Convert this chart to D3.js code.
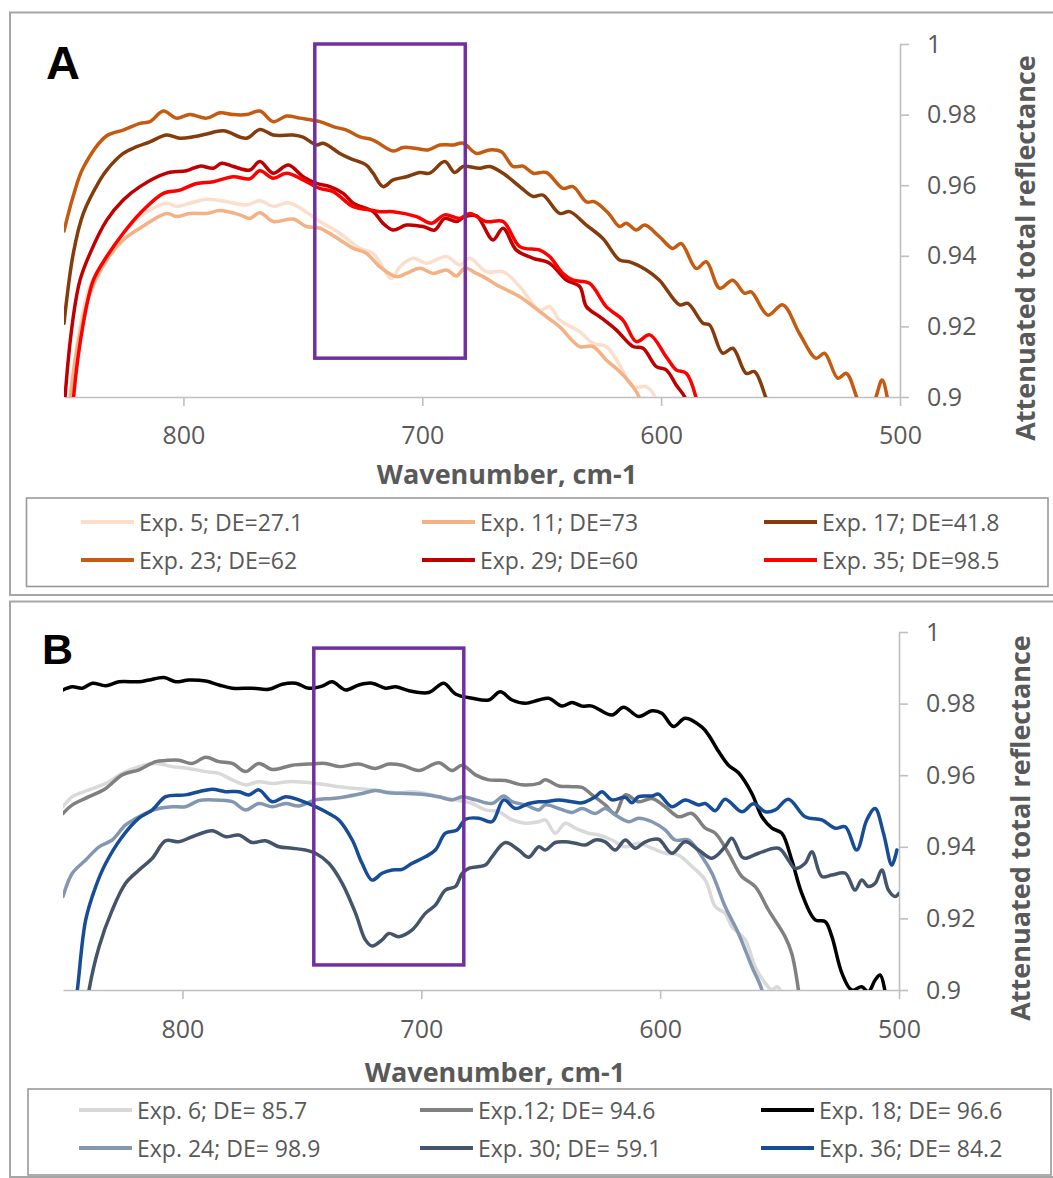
<!DOCTYPE html>
<html>
<head>
<meta charset="utf-8">
<script src="https://cdn.jsdelivr.net/npm/d3@7"></script>
<style>
  body { margin: 0; background: #fff; }
  svg { display: block; }
</style>
</head>
<body>
<svg id="chart" width="1053" height="1178"></svg>
<script>
// ---- data: [wavenumber (cm-1), attenuated total reflectance] ----
// panel A
var exp5 = [[849.5,0.885],[847.5,0.8996],[843.3,0.92],[839.1,0.9313],[832.1,0.9398],[825.2,0.9464],[818.2,0.9511],[807,0.9549],[802.9,0.954],[797.3,0.9549],[790.3,0.956],[781.9,0.9553],[773.6,0.9544],[768,0.9556],[762.4,0.954],[756.1,0.955],[749.9,0.953],[742.9,0.9497],[734.5,0.9464],[726.1,0.9421],[720.6,0.9407],[712.9,0.9336],[709.4,0.9369],[703.8,0.9393],[698.3,0.9379],[689.9,0.9398],[684.3,0.9374],[680.1,0.9393],[673.2,0.9355],[666.2,0.9355],[659.2,0.9313],[650.8,0.9246],[646.7,0.9256],[642.5,0.9218],[634.1,0.9185],[628.5,0.9152],[623,0.9143],[617.4,0.9091],[611.8,0.9029],[606.2,0.9029],[602,0.8992],[600,0.89]]
var exp11 = [[849.5,0.885],[847.5,0.8996],[843.3,0.918],[839.1,0.9294],[832.1,0.9388],[825.2,0.9445],[818.2,0.9478],[807,0.952],[802.9,0.9511],[797.3,0.952],[790.3,0.952],[784.7,0.9528],[776.4,0.9516],[772.2,0.9506],[768,0.9522],[762.4,0.9497],[754,0.9504],[748.5,0.9483],[742.9,0.9478],[734.5,0.9445],[728.9,0.9421],[723.4,0.9407],[717.8,0.9369],[710.8,0.9341],[706.6,0.935],[701,0.9365],[695.5,0.935],[689.9,0.936],[685.7,0.9343],[682.2,0.9365],[677.3,0.935],[674.5,0.9341],[667.6,0.9313],[659.2,0.9284],[650.8,0.9242],[648.1,0.9228],[642.5,0.9199],[634.1,0.9143],[628.5,0.9143],[623,0.9105],[617.4,0.9072],[611.8,0.9029],[609,0.8996],[607,0.89]]
var exp17 = [[850,0.9209],[846.1,0.9407],[841.9,0.952],[834.9,0.9615],[832.1,0.9643],[825.2,0.969],[819.6,0.9709],[814,0.9723],[807,0.9742],[801.5,0.9733],[795.9,0.9737],[790.3,0.9745],[783.3,0.9754],[773.6,0.9733],[768,0.9758],[762.4,0.9742],[754,0.9742],[749.9,0.9736],[744.3,0.9714],[741.5,0.9719],[734.5,0.969],[730.3,0.9676],[723.4,0.9657],[720.6,0.9634],[716.4,0.9596],[712.2,0.9615],[706.6,0.9624],[701,0.9636],[696.9,0.9634],[690.6,0.9667],[686.4,0.9636],[682.9,0.9653],[676,0.9648],[671.8,0.9653],[666.2,0.9634],[659.2,0.9596],[653.6,0.9568],[649.5,0.9572],[642.5,0.952],[638.3,0.9525],[631.3,0.9487],[624.4,0.9449],[617.4,0.9388],[613.2,0.9383],[606.2,0.936],[600.7,0.9331],[592.3,0.9261],[588.8,0.9265],[582.5,0.9209],[579.7,0.9204],[574.2,0.9124],[570,0.9138],[564.4,0.9067],[560.9,0.9072],[556,0.8996],[553,0.895],[550.4,0.8995],[548,0.89]]
var exp23 = [[850,0.947],[846.1,0.957],[841.9,0.965],[832.1,0.974],[825.2,0.9756],[818.2,0.9775],[814,0.978],[808.4,0.981],[802.9,0.979],[797.3,0.98],[790.3,0.979],[784.7,0.9805],[779.1,0.98],[773.6,0.98],[768,0.981],[762.4,0.978],[756.8,0.9796],[751.3,0.979],[742.9,0.978],[737.3,0.9766],[731.7,0.9756],[726.1,0.9737],[720.6,0.9728],[712.2,0.9697],[708,0.9707],[702.4,0.9704],[697.6,0.97],[692.7,0.9714],[687.1,0.9714],[682.9,0.9719],[677.3,0.969],[671.8,0.97],[666.9,0.9695],[662,0.9653],[657.8,0.9654],[653.6,0.9634],[648.1,0.9636],[641.1,0.9591],[636.9,0.9596],[631.3,0.9553],[627.8,0.9553],[622,0.952],[617.4,0.9483],[614.6,0.9492],[610.4,0.9473],[606.9,0.9487],[600.7,0.9454],[595.1,0.9421],[591.6,0.9435],[585.3,0.9364],[581.1,0.9383],[575.5,0.9308],[570,0.9331],[565.1,0.9294],[562.3,0.9298],[555.3,0.9232],[549.1,0.9261],[542.1,0.918],[535.1,0.911],[531.6,0.9124],[526,0.9053],[522.5,0.9067],[517.7,0.8992],[513.5,0.893],[510,0.9001],[507.5,0.9048],[505.1,0.8992],[503,0.89]]
var exp29 = [[851,0.88],[849.6,0.8995],[846.1,0.9228],[843.3,0.9331],[839.1,0.9407],[832.1,0.9501],[825.2,0.9558],[818.2,0.9596],[807,0.9634],[798.7,0.9641],[793.1,0.9654],[787.5,0.9648],[784,0.9662],[779.1,0.9653],[772.2,0.9643],[768,0.9667],[762.4,0.9634],[756.1,0.9657],[749.9,0.9624],[744.3,0.9605],[738.7,0.9596],[733.1,0.9577],[728.9,0.9549],[720.6,0.9525],[716.4,0.9492],[712.2,0.9473],[706.6,0.9487],[699.7,0.9483],[694.8,0.9473],[690.6,0.9506],[685.7,0.9497],[682.2,0.9511],[677.3,0.9513],[670.4,0.9445],[666.2,0.9478],[660.6,0.9416],[653.6,0.9393],[646.7,0.9379],[639.7,0.9331],[634.1,0.9313],[631.3,0.9256],[625.8,0.9228],[618.8,0.919],[611.8,0.9143],[607.6,0.9138],[602,0.9086],[597.9,0.9077],[593.7,0.9034],[589.5,0.8992],[587,0.89]]
var exp35 = [[847.5,0.88],[846.1,0.8992],[841.9,0.9209],[837.7,0.9331],[832.1,0.9398],[825.2,0.9464],[818.2,0.952],[808.4,0.9577],[801.5,0.9586],[794.5,0.9605],[787.5,0.961],[779.1,0.9624],[772.2,0.9618],[768,0.9641],[762.4,0.962],[756.8,0.9634],[749.9,0.9615],[742.9,0.9591],[737.3,0.9582],[728.9,0.9539],[722,0.953],[717.8,0.9525],[712.2,0.9525],[702.4,0.9511],[696.2,0.9492],[690.6,0.9516],[684.3,0.9506],[680.1,0.952],[673.2,0.9497],[666.2,0.9497],[659.2,0.9426],[650.8,0.9416],[646.7,0.9398],[641.1,0.935],[636.9,0.9331],[630,0.9322],[623,0.9256],[616,0.9218],[610.4,0.9157],[604.8,0.9176],[597.9,0.9114],[593.7,0.9077],[589.5,0.9067],[585.3,0.8996],[583,0.89]]

// panel B
var exp6 = [[850,0.9512],[846.1,0.954],[839.1,0.9559],[832.1,0.9577],[825.2,0.9605],[818.2,0.9624],[811.2,0.9633],[804.3,0.9624],[797.3,0.9619],[790.3,0.961],[784.7,0.9605],[779.1,0.9587],[773.6,0.9573],[768,0.9582],[762.4,0.9577],[755.4,0.9582],[748.5,0.958],[741.5,0.9575],[734.5,0.9568],[727.5,0.9563],[720.6,0.9559],[715,0.9554],[709.4,0.9551],[703.8,0.9554],[698.3,0.9549],[692.7,0.954],[685.7,0.9531],[678.7,0.9521],[673.2,0.9503],[667.6,0.9498],[662,0.9475],[656.4,0.9466],[650.8,0.947],[648.1,0.9475],[643.9,0.9438],[639.7,0.9466],[635.5,0.9452],[630,0.9438],[625.8,0.9433],[620.2,0.9419],[614.6,0.94],[609,0.941],[603.4,0.9396],[597.9,0.9382],[592.3,0.9377],[586.7,0.9345],[581.1,0.9307],[576.9,0.9233],[572.8,0.9214],[570,0.9177],[564.4,0.914],[560.2,0.9065],[556,0.9019],[553.2,0.9],[551.1,0.9009],[549.1,0.8991],[547,0.89]]
var exp12 = [[850,0.9493],[846.1,0.9517],[839.1,0.954],[832.1,0.9563],[825.2,0.9601],[818.2,0.9615],[811.2,0.9638],[807,0.9641],[801.5,0.9642],[795.9,0.9633],[790.3,0.965],[784.7,0.9638],[779.1,0.9633],[773.6,0.961],[768,0.9633],[762.4,0.9616],[754,0.9628],[747.1,0.9631],[740.1,0.9633],[734.5,0.9624],[726.2,0.9631],[719.2,0.9619],[713.6,0.9631],[708,0.9628],[701,0.9613],[692.7,0.9635],[687.1,0.9613],[682.9,0.9628],[677.3,0.9601],[671.8,0.9587],[664.8,0.9585],[657.8,0.9573],[650.8,0.9577],[648.1,0.9587],[642.5,0.957],[636.9,0.9568],[632.7,0.9566],[628.5,0.9545],[623,0.9517],[618.8,0.9493],[614.6,0.9545],[609,0.9526],[603.4,0.9535],[597.9,0.9512],[592.3,0.9484],[586.7,0.9493],[581.1,0.9452],[576.9,0.9438],[571.4,0.9382],[565.8,0.9317],[560.2,0.9289],[554.6,0.9223],[547.7,0.9149],[544.9,0.9102],[542.1,0.9],[540.5,0.89]]
var exp18 = [[850,0.9838],[846.1,0.9847],[841.9,0.9843],[837.7,0.9857],[832.1,0.985],[826.6,0.9861],[818.2,0.9861],[814,0.9866],[807.7,0.9873],[802.9,0.9861],[797.3,0.9866],[790.3,0.9863],[784.7,0.9852],[779.1,0.9843],[770.8,0.9843],[763.8,0.984],[758.2,0.9854],[752.6,0.9857],[747.1,0.9843],[741.5,0.9849],[737.3,0.9861],[731.7,0.9838],[726.2,0.9852],[720.6,0.9857],[715,0.9843],[710.8,0.9847],[705.2,0.9836],[696.9,0.9831],[690.6,0.9857],[685.7,0.9827],[678.7,0.9815],[671.8,0.981],[666.9,0.9833],[662,0.981],[656.4,0.9801],[650.8,0.981],[646.7,0.9815],[641.1,0.9793],[636.9,0.9803],[632.7,0.9793],[628.5,0.9793],[620.2,0.9768],[615.3,0.979],[609,0.9764],[603.4,0.978],[599.3,0.9773],[594.4,0.9736],[589.5,0.9759],[582.5,0.9734],[579.7,0.9712],[575.5,0.9666],[571.4,0.9628],[567.2,0.9607],[561.6,0.9549],[557.4,0.9484],[553.2,0.9452],[549.1,0.9438],[544.9,0.9363],[540.7,0.927],[535.1,0.9196],[530.9,0.9191],[528.1,0.9149],[523.9,0.9047],[519.8,0.9],[515.6,0.9009],[512.8,0.8995],[510,0.9028],[507.9,0.9042],[505.8,0.8995],[504,0.89]]
var exp24 = [[850,0.9261],[846.1,0.9326],[840.5,0.9363],[834.9,0.94],[829.4,0.9419],[823.8,0.9461],[818.2,0.9484],[811.2,0.9505],[804.3,0.9512],[798.7,0.9512],[793.1,0.9529],[787.5,0.9531],[779.1,0.9526],[773.6,0.9503],[768,0.9521],[762.4,0.9512],[756.8,0.9521],[751.3,0.9514],[744.3,0.9531],[737.3,0.9535],[731.7,0.954],[724.8,0.9549],[719.2,0.9557],[713.6,0.9551],[706.6,0.9549],[699.7,0.9547],[692.7,0.954],[687.1,0.9531],[682.9,0.954],[677.3,0.9531],[670.4,0.9521],[665.5,0.9542],[662,0.9526],[656.4,0.9517],[650.8,0.9503],[648.1,0.9517],[642.5,0.9507],[636.9,0.9496],[632.7,0.9507],[627.1,0.9493],[623,0.9507],[618.8,0.9489],[613.2,0.947],[609,0.948],[603.4,0.947],[597.9,0.9447],[593.7,0.9419],[588.1,0.9419],[582.5,0.9372],[578.3,0.9326],[572.8,0.9233],[567.2,0.9158],[561.6,0.9065],[557.4,0.9],[555.5,0.89]]
var exp30 = [[841,0.89],[839.1,0.9],[834.9,0.9121],[829.4,0.9223],[823.8,0.9298],[818.2,0.9335],[812.6,0.9368],[807,0.9417],[801.5,0.9414],[795.9,0.9428],[787.5,0.9445],[781.9,0.9428],[776.4,0.9433],[770.8,0.9412],[765.2,0.9417],[759.6,0.94],[754,0.9396],[748.5,0.9391],[744.3,0.9382],[738.7,0.9354],[733.1,0.9298],[727.5,0.9214],[723.4,0.914],[720.6,0.9123],[716.4,0.914],[713.6,0.9158],[709.4,0.9149],[703.8,0.9168],[698.3,0.9214],[694.1,0.9237],[689.9,0.9279],[685.7,0.9289],[682.9,0.9326],[680.1,0.934],[673.2,0.9349],[670.4,0.9372],[664.8,0.9412],[659.2,0.9391],[655,0.9371],[650.8,0.94],[648.1,0.9391],[643.9,0.9412],[639.7,0.9414],[635.5,0.941],[631.3,0.9405],[627.1,0.9419],[623,0.9414],[618.8,0.9391],[614.6,0.9419],[610.4,0.9396],[606.2,0.9414],[600.7,0.9421],[595.1,0.9382],[589.5,0.9414],[583.9,0.9391],[578.3,0.9368],[572.8,0.94],[570,0.9424],[565.8,0.9372],[564.4,0.9368],[558.8,0.9382],[550.4,0.9396],[546.3,0.9363],[543.5,0.934],[539.3,0.9354],[536.5,0.9386],[532.3,0.9317],[528.1,0.9321],[522.5,0.9326],[518.4,0.9279],[515.6,0.9307],[512.8,0.9289],[510,0.9298],[507.2,0.9335],[504.4,0.9279],[501.6,0.9261],[500,0.927]]
var exp36 = [[846,0.89],[844,0.9],[840.5,0.9196],[836.3,0.9289],[832.1,0.9354],[825.2,0.9428],[818.2,0.948],[812.6,0.9503],[807,0.954],[798.7,0.9545],[793.1,0.9554],[787.5,0.9561],[781.9,0.9554],[776.4,0.9554],[772.2,0.9545],[768,0.9559],[762.4,0.9526],[756.8,0.954],[751.3,0.9531],[744.3,0.9512],[738.7,0.9493],[734.5,0.9475],[728.9,0.9419],[724.8,0.9354],[720.6,0.9307],[716.4,0.9326],[712.2,0.9335],[708,0.9337],[703.8,0.9354],[698.3,0.9372],[694.1,0.9391],[689.9,0.9438],[685,0.9447],[681.5,0.9477],[675.9,0.948],[670.4,0.947],[665.5,0.9531],[660.6,0.9507],[655,0.9521],[650.8,0.9526],[648.1,0.9526],[642.5,0.9531],[636.9,0.9526],[632.7,0.9523],[627.1,0.954],[624.4,0.9554],[620.2,0.9531],[614.6,0.9538],[611.8,0.9523],[609,0.954],[603.4,0.9542],[600.7,0.9547],[595.1,0.9512],[589.5,0.9531],[583.9,0.9517],[581.1,0.9521],[576.9,0.9501],[572.8,0.9533],[565.8,0.9498],[560.9,0.952],[556,0.9498],[551.8,0.9503],[546.3,0.9533],[539.3,0.9484],[532.3,0.9475],[526.7,0.9452],[522.5,0.9456],[517.7,0.9391],[513.5,0.9475],[510,0.9507],[506.5,0.9438],[503,0.9349],[500.9,0.9391]]

var namesA = ["Exp. 5; DE=27.1", "Exp. 11; DE=73", "Exp. 17; DE=41.8", "Exp. 23; DE=62", "Exp. 29; DE=60", "Exp. 35; DE=98.5"]
var namesB = ["Exp. 6; DE= 85.7", "Exp.12; DE= 94.6", "Exp. 18; DE= 96.6", "Exp. 24; DE= 98.9", "Exp. 30; DE= 59.1", "Exp. 36; DE= 84.2"]
var colorsA = ["#FBDFCC", "#F4B183", "#843C0C", "#C55A11", "#C00000", "#FF0000"]
var colorsB = ["#D9D9D9", "#808080", "#000000", "#8497B0", "#44546A", "#174C97"]

var xTicks = [800, 700, 600, 500]
var yTicks = [0.9, 0.92, 0.94, 0.96, 0.98, 1]

// highlighted region [wavenumber from, to, value top, value bottom]
var boxA = [745, 682, 1.0, 0.911]
var boxB = [745, 682.2, 0.9955, 0.907]

var textColor = "#595959"
var axisColor = "#BFBFBF"
var font = "'Open Sans', 'DejaVu Sans', sans-serif"

var svg = d3.select("#chart")
svg.append("rect").attr("width", 1053).attr("height", 1178).attr("fill", "#fff")

function drawPanel(cfg) {
    var g = svg.append("g")

    // outer frame of the panel
    g.append("rect")
        .attr("x", 10).attr("y", cfg.frameTop)
        .attr("width", 1080).attr("height", cfg.frameBottom - cfg.frameTop)
        .attr("fill", "none").attr("stroke", "#a6a6a6").attr("stroke-width", 2)

    var xScale = d3.scaleLinear().domain([850, 500]).range([cfg.left, cfg.right])
    var yScale = d3.scaleLinear().domain([0.9, 1]).range([cfg.bottom, cfg.top])

    // x axis
    var xAxis = g.append("g")
        .attr("transform", "translate(0," + cfg.bottom + ")")
        .call(d3.axisBottom(xScale).tickValues(xTicks).tickSize(9).tickSizeOuter(0).tickFormat(d3.format("d")))
    xAxis.select(".domain").attr("stroke", axisColor).attr("stroke-width", 1.6)
    xAxis.selectAll(".tick line").attr("stroke", axisColor).attr("stroke-width", 1.6)
    xAxis.selectAll(".tick text")
        .attr("y", cfg.tickLabelOffset).attr("dy", "0.35em")
        .attr("fill", textColor).style("font-size", "25px").style("font-family", font)

    // y axis on the right side
    var yAxis = g.append("g")
        .attr("transform", "translate(" + cfg.right + ",0)")
        .call(d3.axisRight(yScale).tickValues(yTicks).tickSize(9).tickSizeOuter(0).tickPadding(18)
            .tickFormat(d => String(+d.toFixed(2))))
    yAxis.select(".domain").attr("stroke", axisColor).attr("stroke-width", 1.6)
    yAxis.selectAll(".tick line").attr("stroke", axisColor).attr("stroke-width", 1.6)
    yAxis.selectAll(".tick text")
        .attr("fill", textColor).style("font-size", "25px").style("font-family", font)

    // axis titles
    g.append("text")
        .attr("x", cfg.xTitleX).attr("y", cfg.xTitleY)
        .attr("text-anchor", "middle").attr("dominant-baseline", "central")
        .attr("fill", textColor).style("font-family", font)
        .style("font-size", "27px").style("font-weight", "bold")
        .text("Wavenumber, cm-1")

    g.append("text")
        .attr("transform", "translate(" + cfg.yTitleX + "," + cfg.yTitleY + ") rotate(-90)")
        .attr("text-anchor", "middle").attr("dominant-baseline", "central")
        .attr("fill", textColor).style("font-family", font)
        .style("font-size", "27px").style("font-weight", "bold")
        .text("Attenuated total reflectance")

    // panel letter
    g.append("text")
        .attr("x", cfg.letterX).attr("y", cfg.letterY)
        .style("font-family", "'Liberation Sans', Arial, sans-serif")
        .style("font-size", cfg.letterSize + "px").style("font-weight", "bold")
        .attr("fill", "#000")
        .text(cfg.letter)

    // clip lines to the plot area
    var clipId = "clip" + cfg.letter
    g.append("clipPath").attr("id", clipId)
        .append("rect")
        .attr("x", cfg.left).attr("y", cfg.top - 30)
        .attr("width", cfg.right - cfg.left).attr("height", cfg.bottom - cfg.top + 30)

    var line = d3.line()
        .x(d => xScale(d[0]))
        .y(d => yScale(d[1]))
        .curve(d3.curveCatmullRom.alpha(0.5))

    g.append("g").attr("clip-path", "url(#" + clipId + ")")
        .selectAll("path")
        .data(cfg.series)
        .join("path")
        .attr("d", line)
        .attr("fill", "none")
        .attr("stroke", (d, i) => cfg.colors[i])
        .attr("stroke-width", 3.5)
        .attr("stroke-linejoin", "round")
        .attr("stroke-linecap", "round")

    // highlighted region
    var b = cfg.box
    g.append("rect")
        .attr("x", xScale(b[0])).attr("y", yScale(b[2]))
        .attr("width", xScale(b[1]) - xScale(b[0]))
        .attr("height", yScale(b[3]) - yScale(b[2]))
        .attr("fill", "none").attr("stroke", "#7030A0").attr("stroke-width", 3.5)

    // legend
    g.append("rect")
        .attr("x", cfg.legX0).attr("y", cfg.legY0)
        .attr("width", cfg.legX1 - cfg.legX0).attr("height", cfg.legY1 - cfg.legY0)
        .attr("fill", "#fff").attr("stroke", "#999").attr("stroke-width", 1.6)

    var items = g.append("g").selectAll("g")
        .data(cfg.names)
        .join("g")
        .attr("transform", (d, i) => "translate(" + cfg.legCols[i % 3] + "," + cfg.legRows[Math.floor(i / 3)] + ")")
    items.append("line")
        .attr("x1", 0).attr("x2", 53).attr("y1", 0).attr("y2", 0)
        .attr("stroke", (d, i) => cfg.colors[i]).attr("stroke-width", 4)
    items.append("text")
        .attr("x", 58).attr("y", 0).attr("dominant-baseline", "central")
        .attr("fill", textColor).style("font-family", font).style("font-size", "23px")
        .text(d => d)
}

drawPanel({
    letter: "A", letterX: 46, letterY: 79, letterSize: 47,
    frameTop: 12.5, frameBottom: 595,
    left: 64, right: 900, top: 44, bottom: 397,
    tickLabelOffset: 38,
    xTitleX: 507, xTitleY: 473,
    yTitleX: 1024, yTitleY: 248,
    series: [exp5, exp11, exp17, exp23, exp29, exp35],
    names: namesA, colors: colorsA, box: boxA,
    legX0: 26.5, legX1: 1048, legY0: 498, legY1: 586.5,
    legCols: [81, 422, 764], legRows: [522, 560]
})

drawPanel({
    letter: "B", letterX: 42, letterY: 664, letterSize: 43,
    frameTop: 601.5, frameBottom: 1177,
    left: 63, right: 899, top: 632, bottom: 990,
    tickLabelOffset: 39,
    xTitleX: 495, xTitleY: 1071,
    yTitleX: 1019, yTitleY: 828,
    series: [exp6, exp12, exp18, exp24, exp30, exp36],
    names: namesB, colors: colorsB, box: boxB,
    legX0: 28, legX1: 1051, legY0: 1089, legY1: 1175,
    legCols: [79, 420, 761], legRows: [1110, 1148]
})
</script>
</body>
</html>
